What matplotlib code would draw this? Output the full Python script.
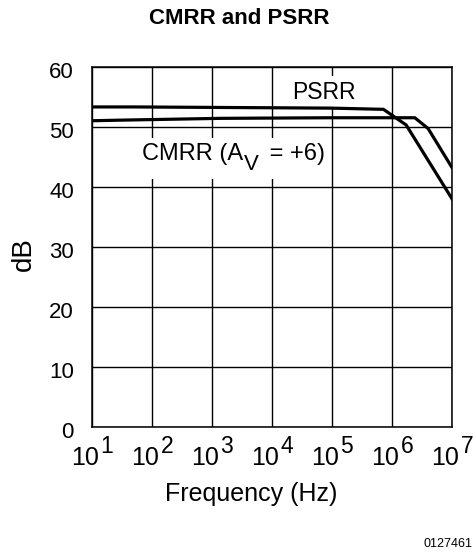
import matplotlib
matplotlib.use("Agg")
import matplotlib.pyplot as plt
import matplotlib.transforms as mtransforms
from matplotlib.patches import Rectangle
from matplotlib import font_manager

# ---- data ----
psrr_freq = [10, 50, 1e5, 7.2e5, 1.72e6, 1e7]
psrr_db = [53.3, 53.3, 53.1, 52.9, 50.3, 38.0]

cmrr_freq = [10, 30, 1.4e3, 1e5, 2.4e6, 4e6, 1e7]
cmrr_db = [51.0, 51.1, 51.4, 51.5, 51.5, 49.7, 43.2]

x_ticks = [1e1, 1e2, 1e3, 1e4, 1e5, 1e6, 1e7]
x_tick_base = "10"
x_tick_exps = ["1", "2", "3", "4", "5", "6", "7"]
y_ticks = [0, 10, 20, 30, 40, 50, 60]

title = "CMRR and PSRR"
x_label = "Frequency (Hz)"
y_label = "dB"
psrr_label = "PSRR"
cmrr_parts = ["CMRR (A", "V", " = +6)"]
code_label = "0127461"

# ---- fonts ----
base_font = "Liberation Sans"
try:
    font_manager.findfont(font_manager.FontProperties(family="Liberation Sans Narrow"),
                          fallback_to_default=False)
    narrow_font = "Liberation Sans Narrow"
    xtick_size = 21
    base_shift = 4
except Exception:
    narrow_font = base_font
    xtick_size = 18
    base_shift = 6.6

plt.rcParams["font.family"] = [base_font, "DejaVu Sans"]

W, H = 474, 552
fig = plt.figure(figsize=(W / 100, H / 100), dpi=100)
ax = fig.add_axes([92 / W, 1 - 427 / H, (452 - 92) / W, (427 - 66.7) / H])

ax.set_xscale("log")
ax.set_xlim(1e1, 1e7)
ax.set_ylim(0, 60)
ax.set_xticks(x_ticks, labels=[x_tick_base] * len(x_ticks))
ax.set_yticks(y_ticks)
ax.xaxis.set_minor_locator(matplotlib.ticker.NullLocator())

ax.grid(True, which="major", color="black", linewidth=1.0)
for s in ax.spines.values():
    s.set_linewidth(1.1)
    s.set_color("black")

ax.tick_params(axis="both", length=0)
ax.tick_params(axis="y", labelsize=16, pad=13)
ax.tick_params(axis="x", labelsize=xtick_size, pad=13.5, labelfontfamily=narrow_font)

y_off = mtransforms.ScaledTranslation(0, -3.5 / 100, fig.dpi_scale_trans)
for lab in ax.get_yticklabels():
    lab.set_transform(lab.get_transform() + y_off)
x_off = mtransforms.ScaledTranslation(-base_shift / 100, 0, fig.dpi_scale_trans)
for lab in ax.get_xticklabels():
    lab.set_transform(lab.get_transform() + x_off)

# superscript exponents of the x tick labels
for xt, e in zip(x_ticks, x_tick_exps):
    ax.annotate(e, xy=(xt, 0), xycoords=("data", "axes fraction"),
                xytext=(6.1, -5.6), textcoords="offset points",
                ha="left", va="top", fontsize=16.5, family=narrow_font,
                annotation_clip=False)

ax.plot(psrr_freq, psrr_db, color="black", linewidth=2.3, zorder=4,
        solid_joinstyle="miter")
ax.plot(cmrr_freq, cmrr_db, color="black", linewidth=2.3, zorder=4,
        solid_joinstyle="miter")

ax.text(7.44e4, 54.57, psrr_label, fontsize=16.5, ha="center", va="baseline",
        zorder=3, bbox=dict(facecolor="white", edgecolor="none", pad=3.5))

t1 = ax.text(67.4, 44.41, cmrr_parts[0], fontsize=17, ha="left",
             va="baseline", zorder=3)
t2 = ax.annotate(cmrr_parts[1], xy=(1, 0), xycoords=t1, xytext=(0.7, -7.1),
                 textcoords="offset points", ha="left", va="bottom",
                 fontsize=16, zorder=3)
t3 = ax.annotate(cmrr_parts[2], xy=(1, 0), xycoords=(t2, t1), xytext=(3.2, 0),
                 textcoords="offset points", ha="left", va="bottom",
                 fontsize=17, zorder=3)

ax.set_xlabel(x_label, fontsize=18)
ax.xaxis.set_label_coords((251.5 - 92) / 360, (426.7 - 482) / 360.3)
ax.set_ylabel(y_label, fontsize=20)
ax.yaxis.set_label_coords((37 - 92) / 360, (426.7 - 254) / 360.3)

fig.text(239 / W, 1 - 24 / H, title, fontsize=16, fontweight="bold",
         ha="center", va="baseline")
fig.text(473 / W, 1 - 547 / H, code_label, fontsize=9, ha="right", va="baseline")

# white box behind the CMRR label, sized from its rendered text
fig.canvas.draw()
r = fig.canvas.get_renderer()
bb = mtransforms.Bbox.union([t.get_window_extent(r) for t in (t1, t2, t3)])
bb = mtransforms.Bbox.from_extents(bb.x0 - 3, bb.y0 - 4, bb.x1 + 2, bb.y1 + 5)
bb_ax = bb.transformed(ax.transAxes.inverted())
ax.add_patch(Rectangle((bb_ax.x0, bb_ax.y0), bb_ax.width, bb_ax.height,
                       transform=ax.transAxes, facecolor="white",
                       edgecolor="none", zorder=2.6))

fig.savefig("out.png", dpi=100)
